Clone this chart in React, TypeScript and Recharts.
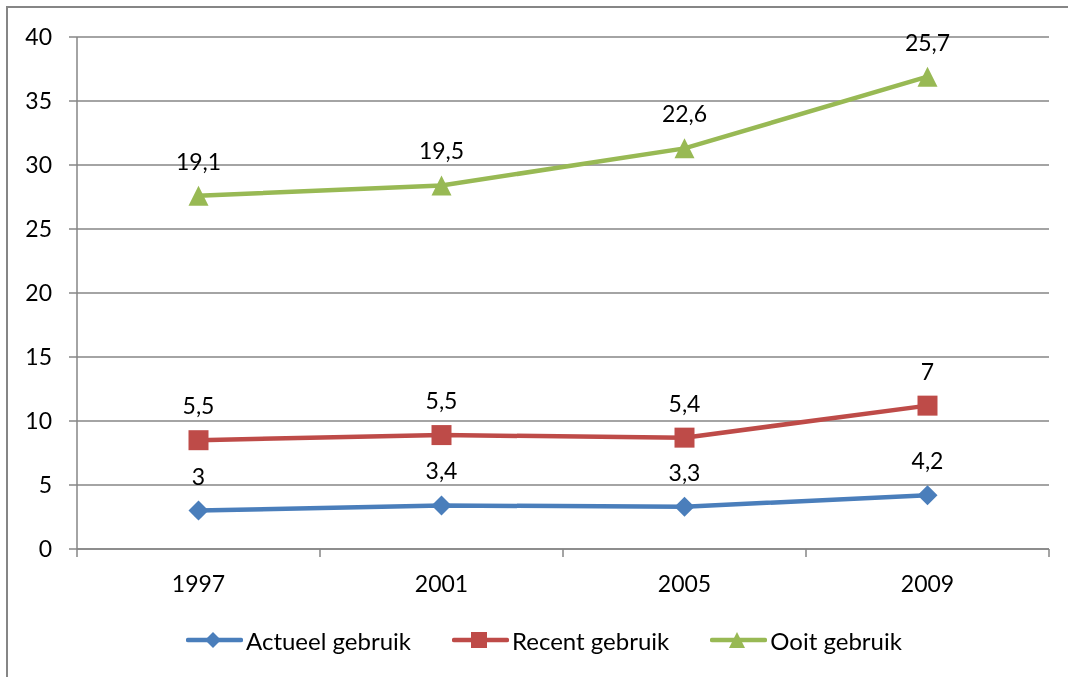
import {
  ComposedChart,
  Area,
  XAxis,
  YAxis,
  CartesianGrid,
  LabelList,
  Legend,
} from "recharts";

const years = ["1997", "2001", "2005", "2009"];
const actueel = [3, 3.4, 3.3, 4.2];
const recent = [5.5, 5.5, 5.4, 7];
const ooit = [19.1, 19.5, 22.6, 25.7];
const yTicks = [0, 5, 10, 15, 20, 25, 30, 35, 40];

const SERIES = [
  { key: "actueel", name: "Actueel gebruik", color: "#4A7EBB", shape: "diamond", values: actueel },
  { key: "recent", name: "Recent gebruik", color: "#BE4B48", shape: "square", values: recent },
  { key: "ooit", name: "Ooit gebruik", color: "#98B954", shape: "triangle", values: ooit },
];

const data = years.map((year, i) => ({
  year,
  actueel: actueel[i],
  recent: recent[i],
  ooit: ooit[i],
}));

const GRID = "#868686";
const FONT = "Lato, 'Open Sans', sans-serif";
const FONT_SIZE = 23;
const BAND = 243; // width of one category on the x axis
const TICK_SIZE = 8;
const TICK_MARGIN = 19;

const fmt = (v: number) => String(v).replace(".", ",");

function markerPath(shape: string, cx: number, cy: number, r: number) {
  if (shape === "diamond") {
    return `M${cx},${cy - r}L${cx + r},${cy}L${cx},${cy + r}L${cx - r},${cy}Z`;
  }
  if (shape === "square") {
    return `M${cx - r},${cy - r}h${2 * r}v${2 * r}h${-2 * r}Z`;
  }
  return `M${cx},${cy - r}L${cx + r},${cy + r}L${cx - r},${cy + r}Z`;
}

const makeDot = (shape: string, color: string) =>
  // eslint-disable-next-line @typescript-eslint/no-explicit-any
  (p: any) => (
    <path
      key={`dot-${shape}-${p.index}`}
      d={markerPath(shape, p.cx, p.cy, 10)}
      fill={color}
      stroke="none"
    />
  );

const makeLabel = (values: number[]) =>
  // eslint-disable-next-line @typescript-eslint/no-explicit-any
  (p: any) => {
    const v = p.index != null ? values[p.index] : p.value;
    return (
      <text
        x={p.x}
        y={p.y - 35}
        textAnchor="middle"
        dominantBaseline="central"
        fontSize={FONT_SIZE}
        fill="#000"
      >
        {fmt(v)}
      </text>
    );
  };

// category labels plus the Excel-style tick marks between categories
// eslint-disable-next-line @typescript-eslint/no-explicit-any
const XTick = (p: any) => {
  const { x, y, payload, index } = p;
  const axisY = y - TICK_SIZE - TICK_MARGIN;
  const half = BAND / 2;
  return (
    <g>
      <line x1={x - half} x2={x - half} y1={axisY} y2={axisY + TICK_SIZE} stroke={GRID} strokeWidth={1.5} />
      {index === years.length - 1 && (
        <line x1={x + half} x2={x + half} y1={axisY} y2={axisY + TICK_SIZE} stroke={GRID} strokeWidth={1.5} />
      )}
      <text x={x} y={y} dy="0.71em" textAnchor="middle" fontSize={FONT_SIZE} fill="#000">
        {payload.value}
      </text>
    </g>
  );
};

const LegendContent = () => (
  <div
    style={{
      height: 60,
      boxSizing: "border-box",
      paddingTop: 4,
      display: "flex",
      alignItems: "center",
      paddingLeft: 178,
      fontSize: 24,
      color: "#000",
    }}
  >
    {SERIES.map((s) => (
      <div key={s.key} style={{ display: "flex", alignItems: "center", marginRight: 41 }}>
        <svg width={57} height={20} style={{ marginRight: 3 }}>
          <line x1={2} x2={55} y1={10} y2={10} stroke={s.color} strokeWidth={4.5} strokeLinecap="round" />
          <path d={markerPath(s.shape, 27, 10, 8)} fill={s.color} />
        </svg>
        <span>{s.name}</span>
      </div>
    ))}
  </div>
);

export default function App() {
  return (
    <div style={{ position: "relative", width: 1060, height: 660, fontFamily: FONT }}>
      <div
        style={{
          position: "fixed",
          left: 6,
          top: 6,
          width: 1070,
          height: 680,
          borderTop: `2px solid ${GRID}`,
          borderLeft: `2px solid ${GRID}`,
          boxSizing: "border-box",
          pointerEvents: "none",
        }}
      />
      <ComposedChart
        width={1060}
        height={660}
        data={data}
        margin={{ top: 29, right: 19, bottom: 0, left: 0 }}
      >
        <CartesianGrid vertical={false} stroke={GRID} strokeWidth={1.5} />
        <XAxis
          dataKey="year"
          scale="band"
          height={59}
          tickLine={false}
          tickSize={TICK_SIZE}
          tickMargin={TICK_MARGIN}
          axisLine={{ stroke: GRID, strokeWidth: 1.5 }}
          tick={<XTick />}
          interval={0}
        />
        <YAxis
          width={69}
          domain={[0, 40]}
          ticks={yTicks}
          tickSize={TICK_SIZE}
          tickMargin={17}
          tickLine={{ stroke: GRID, strokeWidth: 1.5 }}
          axisLine={{ stroke: GRID, strokeWidth: 1.5 }}
          tick={{ fontSize: FONT_SIZE, fill: "#000" }}
        />
        <Legend
          verticalAlign="bottom"
          align="left"
          height={60}
          wrapperStyle={{ left: 0, width: 1060 }}
          content={<LegendContent />}
        />
        {SERIES.map((s) => (
          <Area
            key={s.key}
            type="linear"
            dataKey={s.key}
            name={s.name}
            stackId="stack"
            stroke={s.color}
            strokeWidth={4.5}
            fill="none"
            fillOpacity={0}
            dot={makeDot(s.shape, s.color)}
            activeDot={false}
            isAnimationActive={false}
          >
            <LabelList dataKey={s.key} content={makeLabel(s.values)} />
          </Area>
        ))}
      </ComposedChart>
    </div>
  );
}
